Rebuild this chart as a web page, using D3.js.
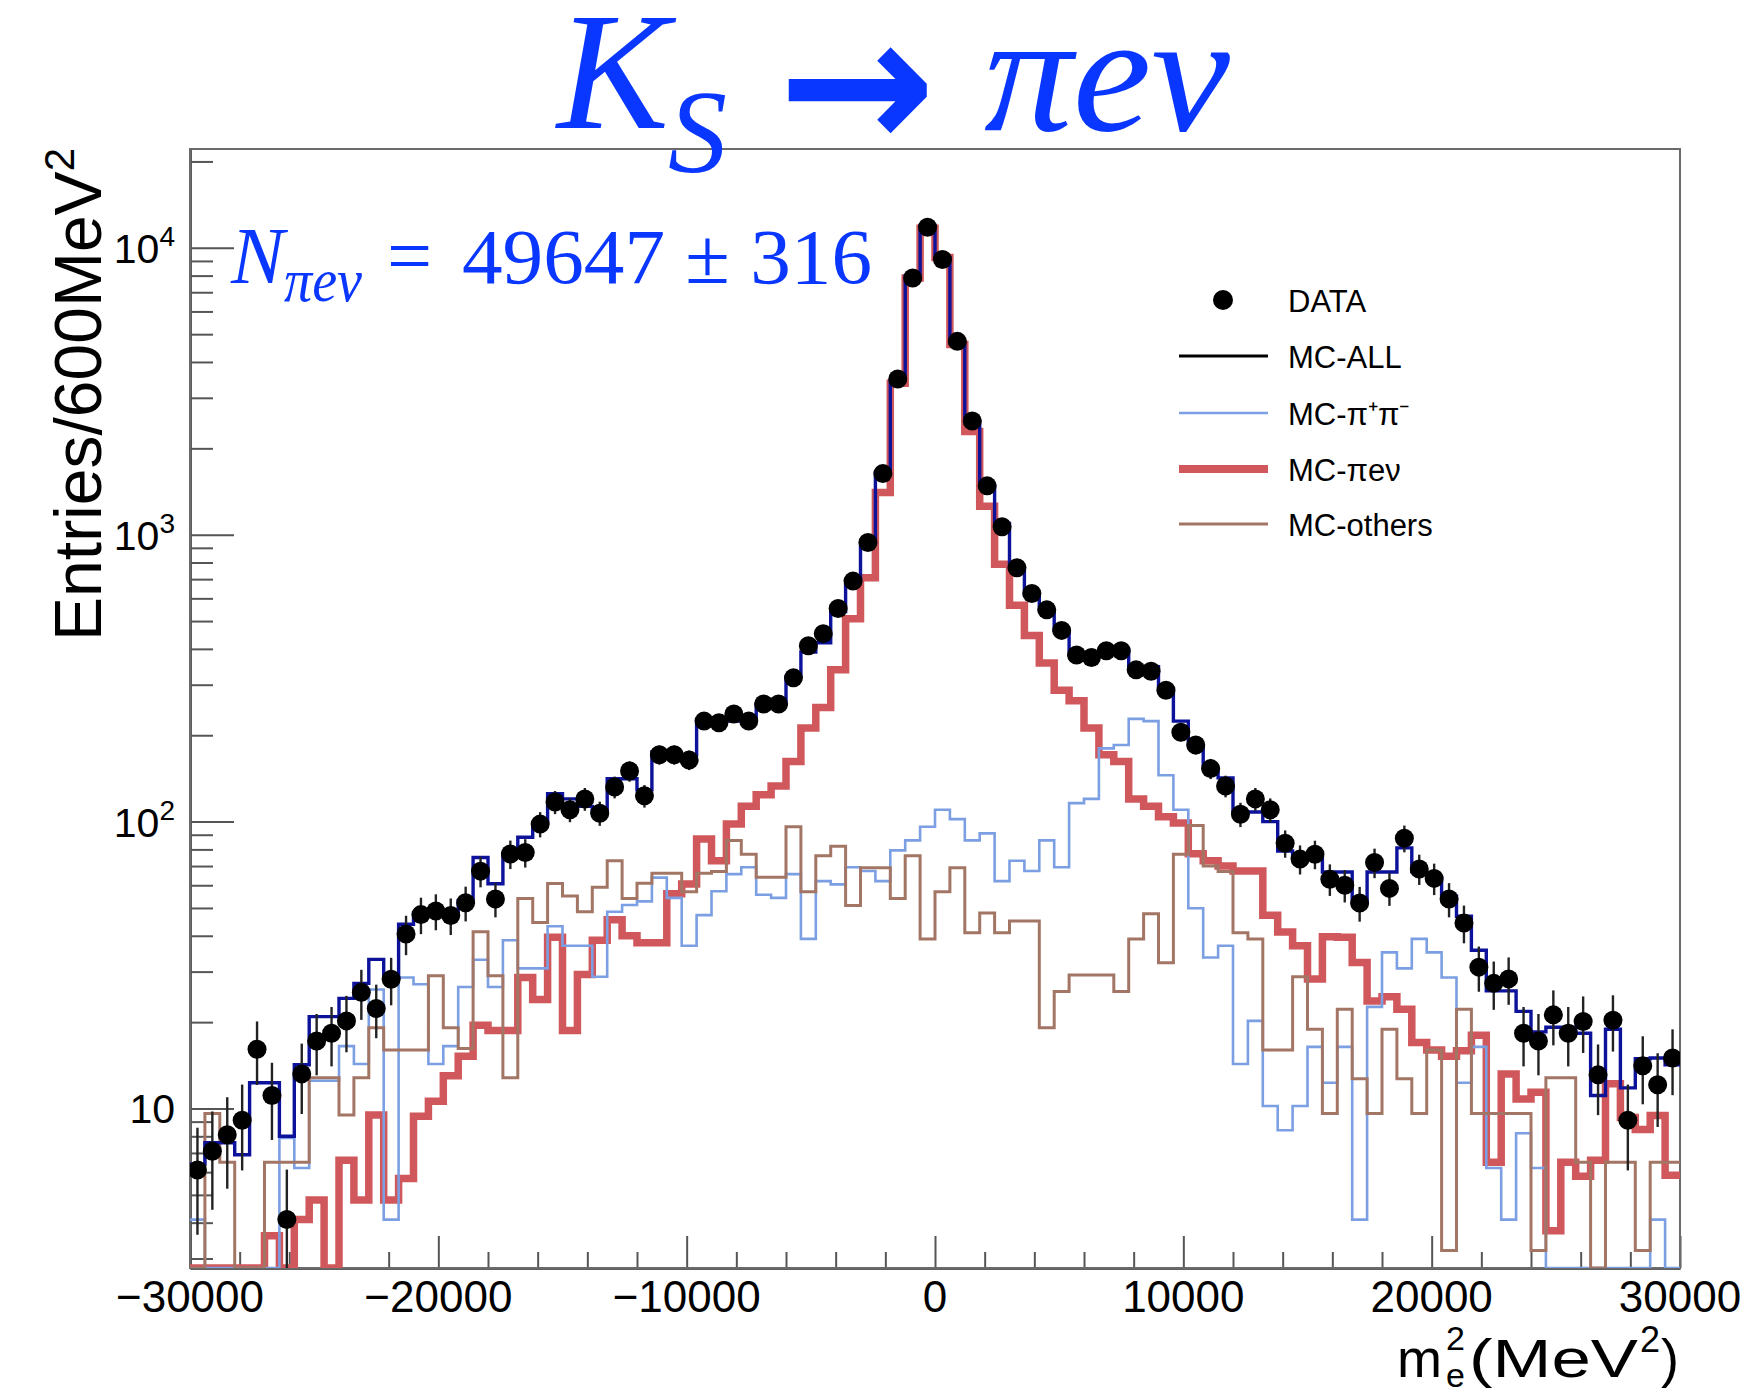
<!DOCTYPE html>
<html>
<head>
<meta charset="utf-8">
<script src="https://cdn.jsdelivr.net/npm/d3@7"></script>
<style>
body { margin: 0; background: #fff; }
</style>
</head>
<body>
<svg id="chart"></svg>
<script>
// 100 bins of 600 MeV^2 between -30000 and 30000
var binLow = -30000, binWidth = 600;

var dataVals = [6.1, 7.1, 8.1, 9.1, 16.1, 11.1, 4.1, 13.2, 17.2, 18.3,
  20.2, 25.4, 22.3, 28.2, 40.6, 47.4, 48.8, 47.1, 52.1, 67.2,
  53.7, 77.1, 78, 98, 117, 110, 120, 107, 132, 150,
  123, 171, 171, 164, 224, 221, 237, 224, 257, 257,
  317, 410, 452, 553, 689, 940, 1633, 3490, 7850, 11800,
  9100, 4720, 2490, 1480, 1066, 767, 624, 547, 464, 381,
  373, 394, 394, 338, 334, 287, 205, 185, 153, 133,
  106, 120, 110, 84, 74, 77, 63, 60, 52, 72,
  58.5, 87.5, 68.4, 63.4, 53.7, 44.3, 31.1, 27.3, 28.3, 18.3,
  17.2, 21.2, 18.3, 20.1, 13.1, 20.3, 9.1, 14.1, 12.1, 15.0];

var mcAll = [6.4, 7.6, 7.6, 6.9, 12.3, 12.3, 8.0, 14.2, 20.9, 20.9,
  24.2, 27.3, 33.1, 28.5, 43.9, 48, 48, 48, 53, 75,
  60.7, 77.6, 88.2, 98.4, 125, 120, 113, 107, 141, 141,
  129, 175, 171, 171, 224, 224, 224, 224, 257, 257,
  320, 390, 420, 540, 689, 930, 1650, 3450, 7980, 11900,
  9250, 4670, 2490, 1480, 1095, 767, 617, 547, 464, 381,
  381, 398, 398, 347, 347, 287, 224, 185, 153, 142,
  108, 108, 100, 79, 75, 75, 66.7, 66.7, 52, 66.7,
  66.7, 81, 67, 63.7, 55, 46.8, 35.6, 25.7, 25.7, 21.8,
  18.5, 19.2, 19.2, 18.3, 11.1, 18.9, 11.8, 14.9, 15.0, 14.2];

var mcPiPi = [4.1, 0, 0, 0, 0, 0, 7.9, 6.2, 12.5, 12.5,
  16.5, 14.3, 26, 4.1, 28.6, 27.1, 14.3, 16.5, 26.5, 33,
  26.5, 38.6, 30.8, 30.8, 43.2, 36.9, 36.9, 28.8, 48.5, 51.2,
  52.7, 63.8, 54.2, 36.9, 47.2, 57.2, 65.6, 69.3, 55.6, 54.2,
  65.6, 39, 62, 60.4, 69.3, 67.3, 62, 79.4, 86, 96,
  110, 102, 86, 91, 62, 73, 67.3, 86, 69.3, 116,
  120, 180, 185, 228, 224, 145, 110, 49.9, 33.6, 36.9,
  14.3, 20.2, 10.2, 8.4, 10.2, 16.4, 12.3, 16.4, 4.1, 22.6,
  35, 30.8, 39, 35, 28.6, 12.3, 16.4, 6.2, 4.1, 8.2,
  6.2, 0, 0, 0, 0, 0, 0, 0, 4.1, 0];

var mcPiEnu = [0, 0, 0, 0, 0, 3.6, 0, 4.1, 4.8, 0,
  6.6, 4.8, 9.5, 4.8, 5.7, 9.4, 10.6, 13, 15.2, 19.5,
  18.7, 18.7, 28.6, 24, 39.5, 18.7, 29.3, 38.6, 45.5, 40,
  37.8, 37.8, 56, 60.6, 87, 73, 98, 113, 124, 133,
  162, 212, 250, 338, 509, 708, 1403, 3370, 7850, 11700,
  9250, 4600, 2290, 1256, 789, 568, 445, 357, 287, 264,
  212, 171, 162, 120, 113, 104, 98.8, 77.3, 73, 70,
  67.3, 67.3, 47.2, 41.2, 36.9, 28.3, 39.7, 39.5, 32.3, 23.7,
  24.5, 22.2, 17, 16, 15.2, 15.9, 18, 6.5, 13.2, 10.8,
  11.4, 3.75, 6.5, 5.8, 6.6, 12.2, 9.3, 8.45, 9.45, 5.85];

var mcOthers = [0, 9.6, 6.5, 0, 0, 6.5, 6.5, 6.5, 12.8, 12.8,
  9.5, 12.8, 19.1, 16, 16, 16, 29, 19.1, 16.2, 41.3,
  29, 12.8, 54, 44.5, 60.8, 55, 48.5, 59, 73, 54,
  61, 66, 66, 57, 66, 67, 86, 77, 64, 64,
  96, 57, 76, 82, 51, 69, 69, 54, 76, 39,
  57, 69, 41, 48, 41, 45, 45, 19.1, 25.6, 29.2,
  29.2, 29.2, 25.6, 39, 47.7, 32.2, 77, 97, 70, 67,
  41, 39, 16, 16, 28.8, 18.9, 9.6, 22.2, 12.7, 9.6,
  18.9, 12.7, 9.6, 16, 3.2, 22.2, 9.6, 9.6, 9.6, 9.6,
  3.2, 12.8, 12.8, 6.5, 0, 6.5, 6.5, 3.2, 6.5, 6.5];

var xTicks = [-30000, -20000, -10000, 0, 10000, 20000, 30000];
var xTickLabels = ["\u221230000", "\u221220000", "\u221210000", "0", "10000", "20000", "30000"];
var yTicks = [10, 100, 1000, 10000];
var yTickExp = ["", "2", "3", "4"];

var legendLabels = ["DATA", "MC-ALL", "MC-\u03c0\u207a\u03c0\u207b", "MC-\u03c0e\u03bd", "MC-others"];

var w = 1753, h = 1395;
var pL = 190, pR = 1680, pT = 149, pB = 1268;
var yMin = 2.78, yMax = 22100;

var colAll = "#0c1299", colPiPi = "#7b9fe2", colPiEnu = "#d0585c", colOthers = "#a37565";
var blueText = "#0a37ff";
var sans = "'Liberation Sans', Arial, Helvetica, sans-serif";
var serif = "'Liberation Serif', 'Times New Roman', serif";

var svg = d3.select("#chart")
  .attr("width", w)
  .attr("height", h)
  .style("background", "#fff")
  .style("font-family", sans);

var x = d3.scaleLinear().domain([-30000, 30000]).range([pL, pR]);
var y = d3.scaleLog().domain([yMin, yMax]).range([pB, pT]);

svg.append("defs").append("clipPath").attr("id", "frame")
  .append("rect")
  .attr("x", pL).attr("y", pT)
  .attr("width", pR - pL).attr("height", pB - pT);

// ---- axes ----
var minorX = d3.range(-30000, 30001, 2000).filter(function(v) { return v % 10000 != 0; });
var minorY = [];
[1, 10, 100, 1000, 10000].forEach(function(dec) {
  for (var k = 2; k <= 9; k++) {
    var v = k * dec;
    if (v > yMin && v < yMax) minorY.push(v);
  }
});

function styleAxis(g) {
  g.selectAll("line").attr("stroke", "#555").attr("stroke-width", 2);
  g.select(".domain").attr("stroke", "#555").attr("stroke-width", 2.5);
  g.selectAll("text").remove();
}

svg.append("g")
  .attr("transform", "translate(0," + pB + ")")
  .call(d3.axisBottom(x).tickValues(minorX).tickSize(-16).tickSizeOuter(0))
  .call(styleAxis);
svg.append("g")
  .attr("transform", "translate(0," + pB + ")")
  .call(d3.axisBottom(x).tickValues(xTicks).tickSize(-32).tickSizeOuter(0))
  .call(styleAxis);

svg.append("g")
  .attr("transform", "translate(" + pL + ",0)")
  .call(d3.axisLeft(y).tickValues(minorY).tickSize(-23).tickSizeOuter(0))
  .call(styleAxis);
svg.append("g")
  .attr("transform", "translate(" + pL + ",0)")
  .call(d3.axisLeft(y).tickValues(yTicks).tickSize(-44).tickSizeOuter(0))
  .call(styleAxis);

// frame
svg.append("rect")
  .attr("x", pL).attr("y", pT)
  .attr("width", pR - pL).attr("height", pB - pT)
  .attr("fill", "none")
  .attr("stroke", "#6a6a6a")
  .attr("stroke-width", 2);

// x tick labels
svg.selectAll("text.xlab")
  .data(xTicks)
  .enter()
  .append("text")
  .attr("class", "xlab")
  .attr("x", function(d) { return x(d); })
  .attr("y", 1312)
  .attr("text-anchor", "middle")
  .attr("font-size", 44)
  .text(function(d, i) { return xTickLabels[i]; });

// y tick labels
var ylab = svg.selectAll("text.ylab")
  .data(yTicks)
  .enter()
  .append("text")
  .attr("class", "ylab")
  .attr("x", 175)
  .attr("y", function(d) { return y(d) + 15; })
  .attr("text-anchor", "end")
  .attr("font-size", 41);
ylab.append("tspan").text("10");
ylab.append("tspan")
  .attr("font-size", 28)
  .attr("dy", -17)
  .text(function(d, i) { return yTickExp[i]; });

// axis titles
var yTitle = svg.append("text")
  .attr("transform", "translate(101,148) rotate(-90)")
  .attr("text-anchor", "end")
  .attr("font-size", 66);
yTitle.append("tspan").text("Entries/600MeV");
yTitle.append("tspan").attr("font-size", 42).attr("dy", -27).text("2");

svg.append("text").attr("x", 1397).attr("y", 1377).attr("font-size", 54).text("m");
svg.append("text").attr("x", 1446).attr("y", 1350).attr("font-size", 34).text("2");
svg.append("text").attr("x", 1446).attr("y", 1387).attr("font-size", 34).text("e");
svg.append("text").attr("x", 1469).attr("y", 1377).attr("font-size", 54)
  .attr("textLength", 169).attr("lengthAdjust", "spacingAndGlyphs").text("(MeV");
svg.append("text").attr("x", 1640).attr("y", 1352).attr("font-size", 36).text("2");
svg.append("text").attr("x", 1661).attr("y", 1377).attr("font-size", 54).text(")");

// ---- histograms ----
function histPath(vals) {
  var pts = vals.map(function(v, i) {
    return [x(binLow + i * binWidth), y(Math.max(v, yMin))];
  });
  pts.push([x(binLow + vals.length * binWidth), y(Math.max(vals[vals.length - 1], yMin))]);
  return d3.line().curve(d3.curveStepAfter)(pts);
}

var plot = svg.append("g").attr("clip-path", "url(#frame)");

var series = [
  { vals: mcPiEnu, color: colPiEnu, width: 7.5 },
  { vals: mcPiPi, color: colPiPi, width: 2.6 },
  { vals: mcOthers, color: colOthers, width: 3 },
  { vals: mcAll, color: colAll, width: 3.4 }
];

plot.selectAll("path.hist")
  .data(series)
  .enter()
  .append("path")
  .attr("class", "hist")
  .attr("d", function(s) { return histPath(s.vals); })
  .attr("fill", "none")
  .attr("stroke", function(s) { return s.color; })
  .attr("stroke-width", function(s) { return s.width; })
  .attr("stroke-linejoin", "miter");

// data points with poisson errors
function binCenter(i) { return binLow + (i + 0.5) * binWidth; }

plot.selectAll("line.err")
  .data(dataVals)
  .enter()
  .append("line")
  .attr("class", "err")
  .attr("x1", function(d, i) { return x(binCenter(i)); })
  .attr("x2", function(d, i) { return x(binCenter(i)); })
  .attr("y1", function(d) { return y(Math.max(d - Math.sqrt(d), 0.5)); })
  .attr("y2", function(d) { return y(d + Math.sqrt(d)); })
  .attr("stroke", "#222")
  .attr("stroke-width", 2.4);

plot.selectAll("circle.pt")
  .data(dataVals)
  .enter()
  .append("circle")
  .attr("class", "pt")
  .attr("cx", function(d, i) { return x(binCenter(i)); })
  .attr("cy", function(d) { return y(d); })
  .attr("r", 9.5)
  .attr("fill", "#000");

// ---- legend ----
var legY = [300, 356, 413, 469, 524];
var legend = svg.append("g");
legend.append("circle").attr("cx", 1223).attr("cy", legY[0]).attr("r", 10).attr("fill", "#000");
var legLines = [
  { color: "#000", width: 3 },
  { color: colPiPi, width: 2.6 },
  { color: colPiEnu, width: 8 },
  { color: colOthers, width: 3 }
];
legend.selectAll("line")
  .data(legLines)
  .enter()
  .append("line")
  .attr("x1", 1179).attr("x2", 1268)
  .attr("y1", function(d, i) { return legY[i + 1]; })
  .attr("y2", function(d, i) { return legY[i + 1]; })
  .attr("stroke", function(d) { return d.color; })
  .attr("stroke-width", function(d) { return d.width; });
legend.selectAll("text")
  .data(legendLabels)
  .enter()
  .append("text")
  .attr("x", 1288)
  .attr("y", function(d, i) { return legY[i] + 12; })
  .attr("font-size", 31)
  .text(function(d) { return d; });

// ---- blue annotations ----
function blue(xp, yp, size, italic, str, len) {
  var t = svg.append("text").attr("x", xp).attr("y", yp)
    .style("font-family", serif)
    .style("font-style", italic ? "italic" : "normal")
    .attr("font-size", size)
    .attr("fill", blueText)
    .text(str);
  if (len) t.attr("textLength", len).attr("lengthAdjust", "spacingAndGlyphs");
  return t;
}
blue(557, 128, 168, true, "K");
blue(668, 172, 118, true, "S");
blue(778, 150, 190, false, "\u2192", 158)
  .style("font-family", "'DejaVu Sans', sans-serif")
  .style("font-weight", "bold");
blue(984, 130, 170, true, "\u03c0e\u03bd", 246);

blue(231, 283, 80, true, "N");
blue(284, 301, 62, true, "\u03c0e\u03bd", 78);
blue(387, 283, 80, false, "=");
blue(462, 283, 79, false, "49647 \u00b1 316", 410);
</script>
</body>
</html>
